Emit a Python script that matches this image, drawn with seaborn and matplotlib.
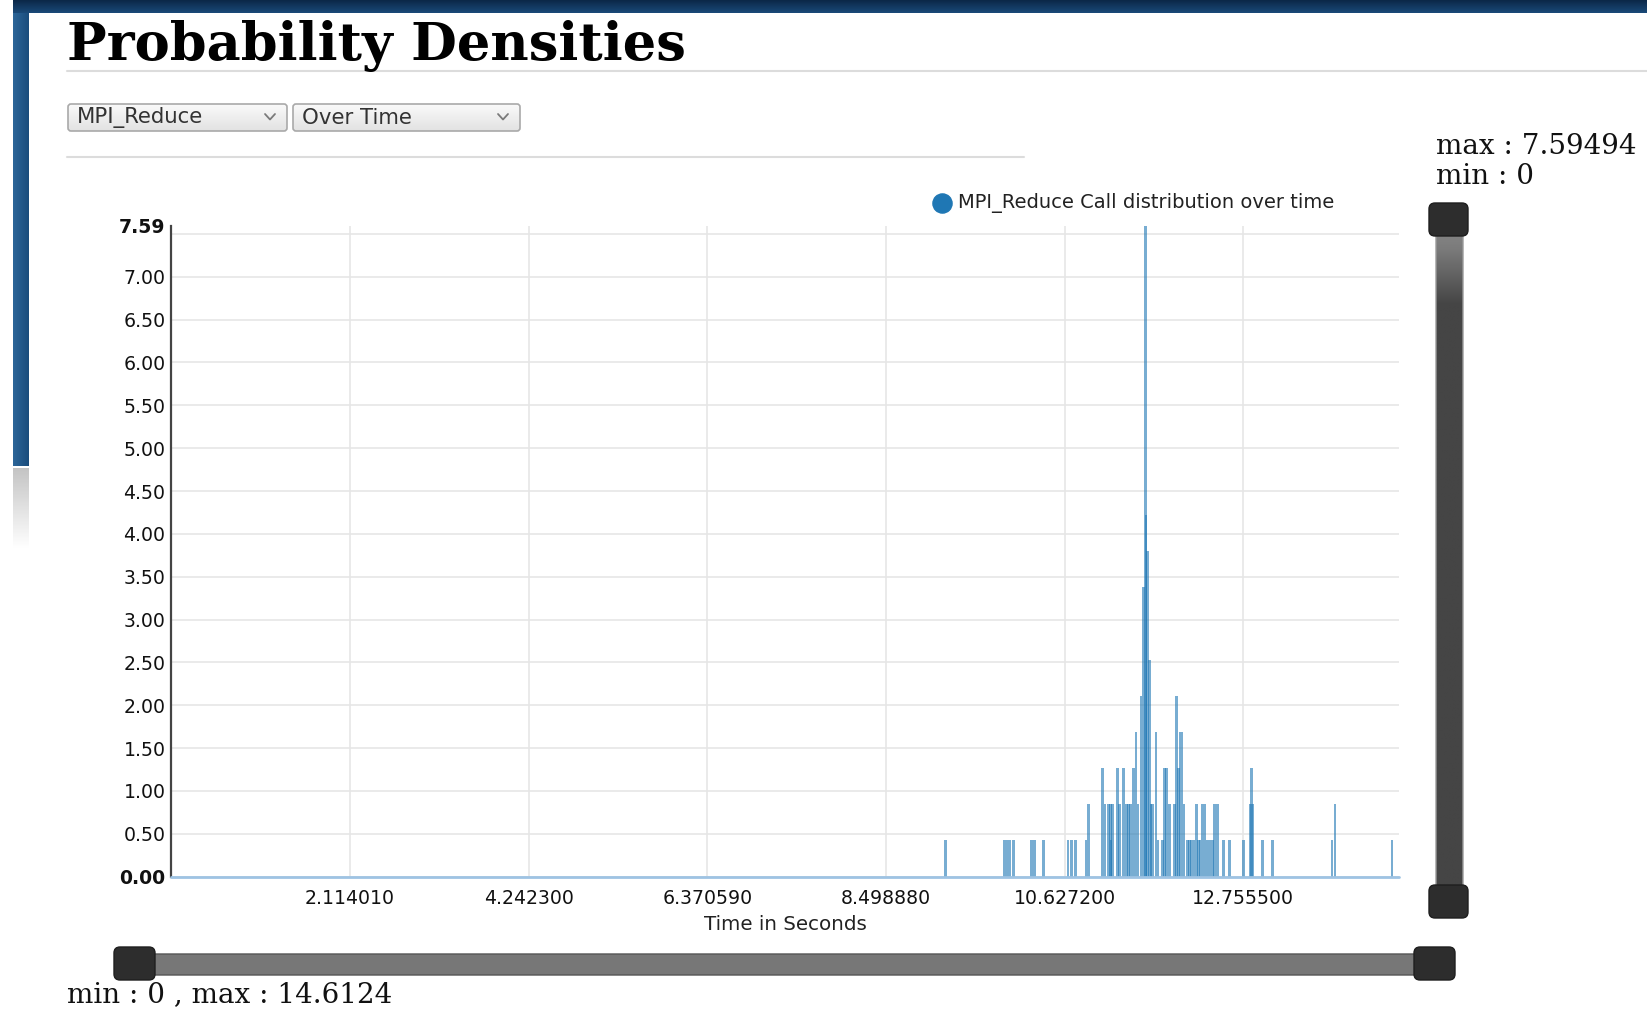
import numpy as np
import pandas as pd
import matplotlib
matplotlib.use("Agg")
import matplotlib.pyplot as plt
import matplotlib.colors as mcolors
from matplotlib.patches import FancyBboxPatch
import seaborn as sns

# ---- data -------------------------------------------------------------
call_times = [9.207, 9.911, 9.940, 9.970, 10.018, 10.232, 10.268, 10.375,
              10.667, 10.713, 10.757, 10.884, 10.910, 11.080, 11.111,
              11.150, 11.172, 11.183, 11.198, 11.261, 11.282, 11.329, 11.365,
              11.389, 11.413, 11.448, 11.480, 11.500, 11.538, 11.567, 11.591,
              11.599, 11.618, 11.639, 11.659, 11.678, 11.718, 11.740, 11.794,
              11.818, 11.841, 11.877, 11.937, 11.960, 11.985, 12.005, 12.025,
              12.050, 12.090, 12.115, 12.140, 12.170, 12.202, 12.222, 12.242,
              12.273, 12.300, 12.330, 12.360, 12.390, 12.413, 12.450, 12.524,
              12.592, 12.759, 12.842, 12.856, 12.875, 12.989, 13.108, 13.816,
              13.847, 14.531]
call_density = [0.42194, 0.42194, 0.42194, 0.42194, 0.42194, 0.42194, 0.42194, 0.42194,
                0.42194, 0.42194, 0.42194, 0.42194, 0.84388, 1.26582, 0.84388,
                0.84388, 0.84388, 0.42194, 0.84388, 1.26582, 0.84388, 1.26582, 0.84388,
                0.84388, 0.84388, 1.26582, 1.68776, 0.84388, 2.10970, 3.37553, 7.59494,
                4.21941, 3.79747, 2.53165, 0.84388, 0.84388, 1.68776, 0.42194, 0.42194,
                1.26582, 1.26582, 0.84388, 0.84388, 2.10970, 1.26582, 1.68776, 1.68776,
                0.84388, 0.42194, 0.42194, 0.42194, 0.42194, 0.84388, 0.42194, 0.42194,
                0.84388, 0.84388, 0.42194, 0.42194, 0.42194, 0.84388, 0.84388, 0.42194,
                0.42194, 0.42194, 0.84388, 1.26582, 0.84388, 0.42194, 0.42194, 0.42194,
                0.84388, 0.42194]

x_ticks = [2.114010, 4.242300, 6.370590, 8.498880, 10.627200, 12.755500]
x_tick_labels = ["2.114010", "4.242300", "6.370590", "8.498880", "10.627200", "12.755500"]
y_ticks = [0.0, 0.5, 1.0, 1.5, 2.0, 2.5, 3.0, 3.5, 4.0, 4.5, 5.0, 5.5, 6.0, 6.5, 7.0, 7.5]
y_tick_labels = ["0.00", "0.50", "1.00", "1.50", "2.00", "2.50", "3.00", "3.50", "4.00",
                 "4.50", "5.00", "5.50", "6.00", "6.50", "7.00", ""]
y_max = 7.59494
x_max = 14.6124

series_name = "MPI_Reduce Call distribution over time"

# ---- figure & page canvas (pixel coordinates) --------------------------
W, H = 1647, 1009
sns.set_style("white")
plt.rcParams["font.family"] = ["DejaVu Sans"]

fig = plt.figure(figsize=(W / 100, H / 100), dpi=100)
bg = fig.add_axes([0, 0, 1, 1], zorder=0)


def gradient(x0, x1, y0, y1, colors, stops, vertical=True, clip=None, z=1):
    n = 256
    t = np.linspace(0, 1, n)
    rgb = np.array([mcolors.to_rgb(c) for c in colors])
    arr = np.stack([np.interp(t, stops, rgb[:, i]) for i in range(3)], axis=-1)
    arr = arr[:, None, :] if vertical else arr[None, :, :]
    im = bg.imshow(arr, extent=(x0, x1, y1, y0), aspect="auto",
                   interpolation="bilinear", zorder=z)
    if clip is not None:
        im.set_clip_path(clip)
    return im


# header band and side band
gradient(13, W, 0, 13, ["#0b2747", "#1a4a79"], [0, 1])
gradient(13, 29, 13, 466, ["#2c6699", "#1a4c7c"], [0, 1], vertical=False)
gradient(13, 29, 468, 548, ["#c4c4c4", "#ffffff"], [0, 1])

# title and separators
bg.text(67, 60, "Probability Densities", family="DejaVu Serif", fontweight="bold",
        fontsize=38, va="baseline", ha="left", color="#000000")
bg.plot([67, W], [70.5, 70.5], color="#dcdcdc", lw=1.5)
bg.plot([67, 1024], [156.5, 156.5], color="#dcdcdc", lw=1.5)

# selectors
for (x0, x1, label) in [(68, 287, "MPI_Reduce"), (293, 520, "Over Time")]:
    box = FancyBboxPatch((x0, 104), x1 - x0, 27, boxstyle="round,pad=0,rounding_size=3",
                         fc="none", ec="#a9a9a9", lw=1.2, zorder=3)
    bg.add_patch(box)
    gradient(x0, x1, 104, 131, ["#fafafa", "#e2e2e2"], [0, 1], clip=box, z=2)
    bg.text(x0 + 9, 118, label, fontsize=15.3, color="#333333", va="center", ha="left", zorder=4)
    cx = x1 - 17
    bg.plot([cx - 5, cx, cx + 5], [114, 119.5, 114], color="#7a7a7a", lw=1.3, zorder=4)

# legend
bg.scatter([942], [203], s=190, color="#1f77b4", zorder=3)
bg.text(958, 203, series_name, fontsize=14, color="#222222", va="center", ha="left")

# range readouts
bg.text(1436, 147, "max : 7.59494", family="DejaVu Serif", fontsize=20, va="center", color="#111111")
bg.text(1436, 176.5, "min : 0", family="DejaVu Serif", fontsize=20, va="center", color="#111111")
bg.text(67, 995, "min : 0 , max : 14.6124", family="DejaVu Serif", fontsize=20, va="center",
        color="#111111")

# vertical range slider
track_v = FancyBboxPatch((1436, 222), 27, 676, boxstyle="round,pad=0,rounding_size=2",
                         fc="none", ec="#9a9a9a", lw=1.0, zorder=3)
bg.add_patch(track_v)
gradient(1436, 1463, 222, 898, ["#8a8a8a", "#7a7a7a", "#454545", "#454545"],
         [0, 0.04, 0.12, 1], clip=track_v, z=2)
for y0 in (203, 885):
    bg.add_patch(FancyBboxPatch((1429, y0), 39, 33, boxstyle="round,pad=0,rounding_size=6",
                                fc="#2d2d2d", ec="#1e1e1e", lw=1.0, zorder=4))

# horizontal range slider
bg.add_patch(FancyBboxPatch((134, 954), 1305, 21, boxstyle="round,pad=0,rounding_size=2",
                            fc="#777777", ec="#555555", lw=1.0, zorder=3))
for x0 in (114, 1414):
    bg.add_patch(FancyBboxPatch((x0, 947), 41, 33, boxstyle="round,pad=0,rounding_size=6",
                                fc="#2d2d2d", ec="#1e1e1e", lw=1.0, zorder=4))

bg.set_xlim(0, W)
bg.set_ylim(H, 0)
bg.axis("off")

# ---- density chart ------------------------------------------------------
ax_left, ax_right, ax_top, ax_bottom = 171, 1399, 225.8, 876.6
ax = fig.add_axes([ax_left / W, 1 - ax_bottom / H, (ax_right - ax_left) / W,
                   (ax_bottom - ax_top) / H], zorder=2)

df = pd.DataFrame({"time": call_times, "density": call_density})
sns.barplot(data=df, x="time", y="density", native_scale=True, orient="x",
            color="#1f77b4", saturation=1, alpha=0.6, errorbar=None,
            linewidth=0, ax=ax)

bar_w = 0.03
for p in ax.patches:
    c = p.get_x() + p.get_width() / 2
    p.set_width(bar_w)
    p.set_x(c - bar_w / 2)
    p.set_zorder(3)

ax.axhline(0, color="#9ec3e3", lw=2.0, zorder=4, clip_on=False)

ax.set_xlim(-0.02, x_max)
ax.set_ylim(0, y_max)
ax.set_xticks(x_ticks)
ax.set_xticklabels(x_tick_labels)
ax.set_yticks(y_ticks)
ax.set_yticklabels(y_tick_labels)
ax.set_yticks([y_max], minor=True)
ax.set_yticklabels(["7.59"], minor=True)
ax.tick_params(axis="both", which="both", length=0, labelsize=13.6, labelcolor="#111111")
ax.tick_params(axis="x", pad=9)
ax.tick_params(axis="y", which="both", pad=4)
for lab in ax.get_yticklabels():
    if lab.get_text() == "0.00":
        lab.set_fontweight("bold")
for lab in ax.get_yticklabels(minor=True):
    lab.set_fontweight("bold")

ax.grid(True, which="major", color="#e6e6e6", lw=1.2)
ax.set_axisbelow(True)
for side in ("top", "right", "bottom"):
    ax.spines[side].set_visible(False)
ax.spines["left"].set_color("#444444")
ax.spines["left"].set_linewidth(1.6)

ax.set_ylabel("")
ax.set_xlabel("Time in Seconds", fontsize=14.3, color="#222222")
ax.xaxis.set_label_coords(0.5, -(925 - ax_bottom) / (ax_bottom - ax_top))
ax.xaxis.label.set_va("center")

fig.savefig("out.png", dpi=100)
